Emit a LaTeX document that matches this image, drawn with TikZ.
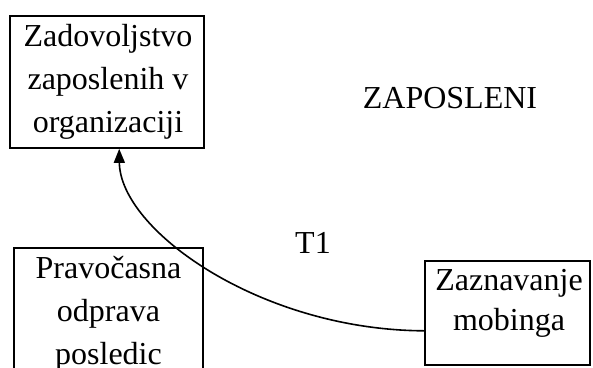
\documentclass[tikz,border=0pt]{standalone}
\usepackage{fontspec}
\setmainfont{Liberation Serif}
\usetikzlibrary{arrows.meta,calc}
\begin{document}
\begin{tikzpicture}[x=1pt,y=-1pt,
  boxnode/.style={draw,line width=1.6pt,inner sep=0pt,rectangle},
  txt/.style={align=center,inner sep=0pt,font=\fontsize{32}{43}\selectfont},
  link/.style={line width=1.6pt,-{Triangle[length=14pt,width=11pt]}}]
\useasboundingbox (0,0) rectangle (593,367);
% boxes
\node[boxnode,minimum width=194pt,minimum height=132pt] (zad) at (107,82) {};
\node[txt] (zadt) at (108,82) {Zadovoljstvo\\zaposlenih v\\organizaciji};
\node[boxnode,minimum width=189pt,minimum height=132pt] (pra) at (108.5,314) {};
\node[txt] (prat) at (108.5,314) {Pravočasna\\odprava\\posledic};
\node[boxnode,minimum width=165pt,minimum height=104pt] (zaz) at (507.5,313) {};
\node[txt,font=\fontsize{32}{40}\selectfont] (zazt) at (509,303) {Zaznavanje\\mobinga};
% labels
\node[txt,anchor=base] (zap) at (450,108) {ZAPOSLENI};
\node[txt,anchor=base] (t1) at (313,253) {T1};
% connector
\coordinate (cs) at ($(zaz.south west)+(0,-35)$);
\coordinate (ce) at ($(zad.south west)+(110,0)$);
\draw[link] (cs) .. controls (260,330) and (120,230) .. (ce);
\end{tikzpicture}
\end{document}
